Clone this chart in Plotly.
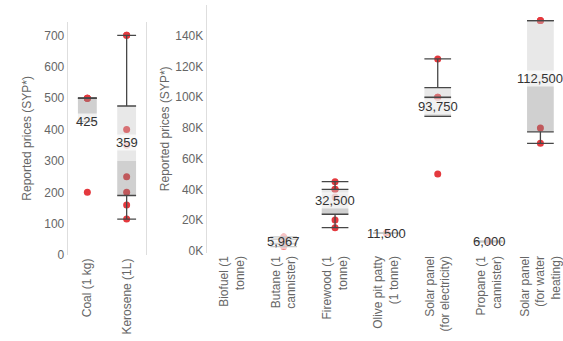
import numpy as np
import plotly.graph_objects as go

# ---- data -------------------------------------------------------------
left_categories = ["Coal (1 kg)", "Kerosene (1L)"]
left_ticklabels = ["Coal (1 kg)", "Kerosene (1L)"]
coal_prices = [500, 500, 500, 200]
kerosene_prices = [700, 700, 400, 350, 250, 200, 160, 115]

right_categories = [
    "Biofuel (1 tonne)", "Butane (1 cannister)", "Firewood (1 tonne)",
    "Olive pit patty (1 tonne)", "Solar panel (for electricity)",
    "Propane (1 cannister)", "Solar panel (for water heating)",
]
right_ticklabels = [
    "Biofuel (1<br>tonne)", "Butane (1<br>cannister)", "Firewood (1<br>tonne)",
    "Olive pit patty<br>(1 tonne)", "Solar panel<br>(for electricity)",
    "Propane (1<br>cannister)", "Solar panel<br>(for water<br>heating)",
]
biofuel_prices = []
butane_prices = [9000, 6200, 2700]
firewood_prices = [45000, 40000, 40000, 35000, 20000, 15000]
olive_pit_prices = [11500]
solar_electric_prices = [125000, 100000, 100000, 50000]
propane_prices = [6000]
solar_water_prices = [150000, 150000, 80000, 70000]

left_tickvals = [0, 100, 200, 300, 400, 500, 600, 700]
right_tickvals = [0, 20000, 40000, 60000, 80000, 100000, 120000, 140000]

left_series = [coal_prices, kerosene_prices]
right_series = [biofuel_prices, butane_prices, firewood_prices, olive_pit_prices,
                solar_electric_prices, propane_prices, solar_water_prices]

# ---- styling ----------------------------------------------------------
FONT = "Liberation Sans, Arial, sans-serif"
POINT_COLOR = "#e4393e"
LOWER_FILL = "rgba(137,137,137,0.4)"   # Q1 -> median
UPPER_FILL = "rgba(197,197,197,0.4)"   # median -> Q3
LINE_COLOR = "#474747"
AXIS_COLOR = "#dedede"
TICK_COLOR = "#666666"

W, H = 563, 341


def stats(values):
    v = np.asarray(values, dtype=float)
    q1, med, q3 = np.percentile(v, [25, 50, 75])
    iqr = q3 - q1
    lo = v[v >= q1 - 1.5 * iqr].min()
    hi = v[v <= q3 + 1.5 * iqr].max()
    return dict(q1=q1, med=med, q3=q3, lo=lo, hi=hi, mean=v.mean())


fig = go.Figure()
annotations = []


def add_panel(series, xa, ya, half):
    px_, py_ = [], []
    box_lo_x, box_lo_y, box_up_x, box_up_y = [], [], [], []
    lx, ly = [], []
    for i, vals in enumerate(series):
        if not vals:
            continue
        s = stats(vals)
        px_ += [i] * len(vals)
        py_ += list(vals)
        a, b = i - half, i + half
        box_lo_x += [a, b, b, a, a, None]
        box_lo_y += [s["q1"], s["q1"], s["med"], s["med"], s["q1"], None]
        box_up_x += [a, b, b, a, a, None]
        box_up_y += [s["med"], s["med"], s["q3"], s["q3"], s["med"], None]
        # box edges and whisker caps
        for y in (s["q1"], s["q3"], s["lo"], s["hi"]):
            lx += [a, b, None]
            ly += [y, y, None]
        if s["hi"] > s["q3"]:
            lx += [i, i, None]
            ly += [s["q3"], s["hi"], None]
        if s["lo"] < s["q1"]:
            lx += [i, i, None]
            ly += [s["lo"], s["q1"], None]
        annotations.append(dict(
            x=i, y=s["mean"], xref=xa, yref=ya, text=f"{s['mean']:,.0f}",
            showarrow=False, font=dict(family=FONT, size=13, color="#333333"),
            bgcolor="rgba(255,255,255,0.7)", borderpad=0,
        ))
    axes = dict(xaxis=xa, yaxis=ya)
    fig.add_trace(go.Scatter(x=px_, y=py_, mode="markers", hoverinfo="y",
                             marker=dict(color=POINT_COLOR, size=7), **axes))
    fig.add_trace(go.Scatter(x=box_lo_x, y=box_lo_y, mode="lines", fill="toself",
                             fillcolor=LOWER_FILL, line=dict(width=0), hoverinfo="skip", **axes))
    fig.add_trace(go.Scatter(x=box_up_x, y=box_up_y, mode="lines", fill="toself",
                             fillcolor=UPPER_FILL, line=dict(width=0), hoverinfo="skip", **axes))
    fig.add_trace(go.Scatter(x=lx, y=ly, mode="lines", hoverinfo="skip",
                             line=dict(color=LINE_COLOR, width=1.3), **axes))


add_panel(left_series, "x", "y", 0.24)
add_panel(right_series, "x2", "y2", 0.26)

tickfont = dict(family=FONT, size=12, color=TICK_COLOR)
title_font = dict(family=FONT, size=12, color=TICK_COLOR)

common_x = dict(showgrid=False, zeroline=False, showline=False, ticks="",
                tickangle=-90, tickfont=tickfont, fixedrange=True)
common_y = dict(showgrid=False, zeroline=False, showline=True, linecolor=AXIS_COLOR,
                linewidth=1, ticks="", tickfont=tickfont)

fig.update_layout(
    width=W, height=H,
    margin=dict(l=0, r=0, t=0, b=0),
    paper_bgcolor="white", plot_bgcolor="white",
    showlegend=False,
    font=dict(family=FONT),
    xaxis=dict(domain=[67.7 / W, 146.3 / W], range=[-0.5, 1.5],
               tickvals=list(range(len(left_categories))), ticktext=left_ticklabels,
               anchor="y", **common_x),
    yaxis=dict(domain=[1 - 260.5 / H, 1 - 22 / H], range=[0, 744], anchor="x",
               tickvals=left_tickvals, ticktext=[str(v) for v in left_tickvals],
               mirror=True,
               title=dict(text="Reported prices (SYP*)", font=title_font, standoff=10),
               **common_y),
    xaxis2=dict(domain=[206.7 / W, 1.0], range=[-0.5, 6.44],
                tickvals=list(range(len(right_categories))), ticktext=right_ticklabels,
                anchor="y2", **common_x),
    yaxis2=dict(domain=[1 - 258 / H, 1 - 5 / H], range=[-1300, 160200], anchor="x2",
                tickvals=right_tickvals,
                ticktext=[f"{v // 1000}K" for v in right_tickvals],
                title=dict(text="Reported prices (SYP*)", font=title_font, standoff=3),
                **common_y),
    annotations=annotations,
)

fig.write_html("out.html")
